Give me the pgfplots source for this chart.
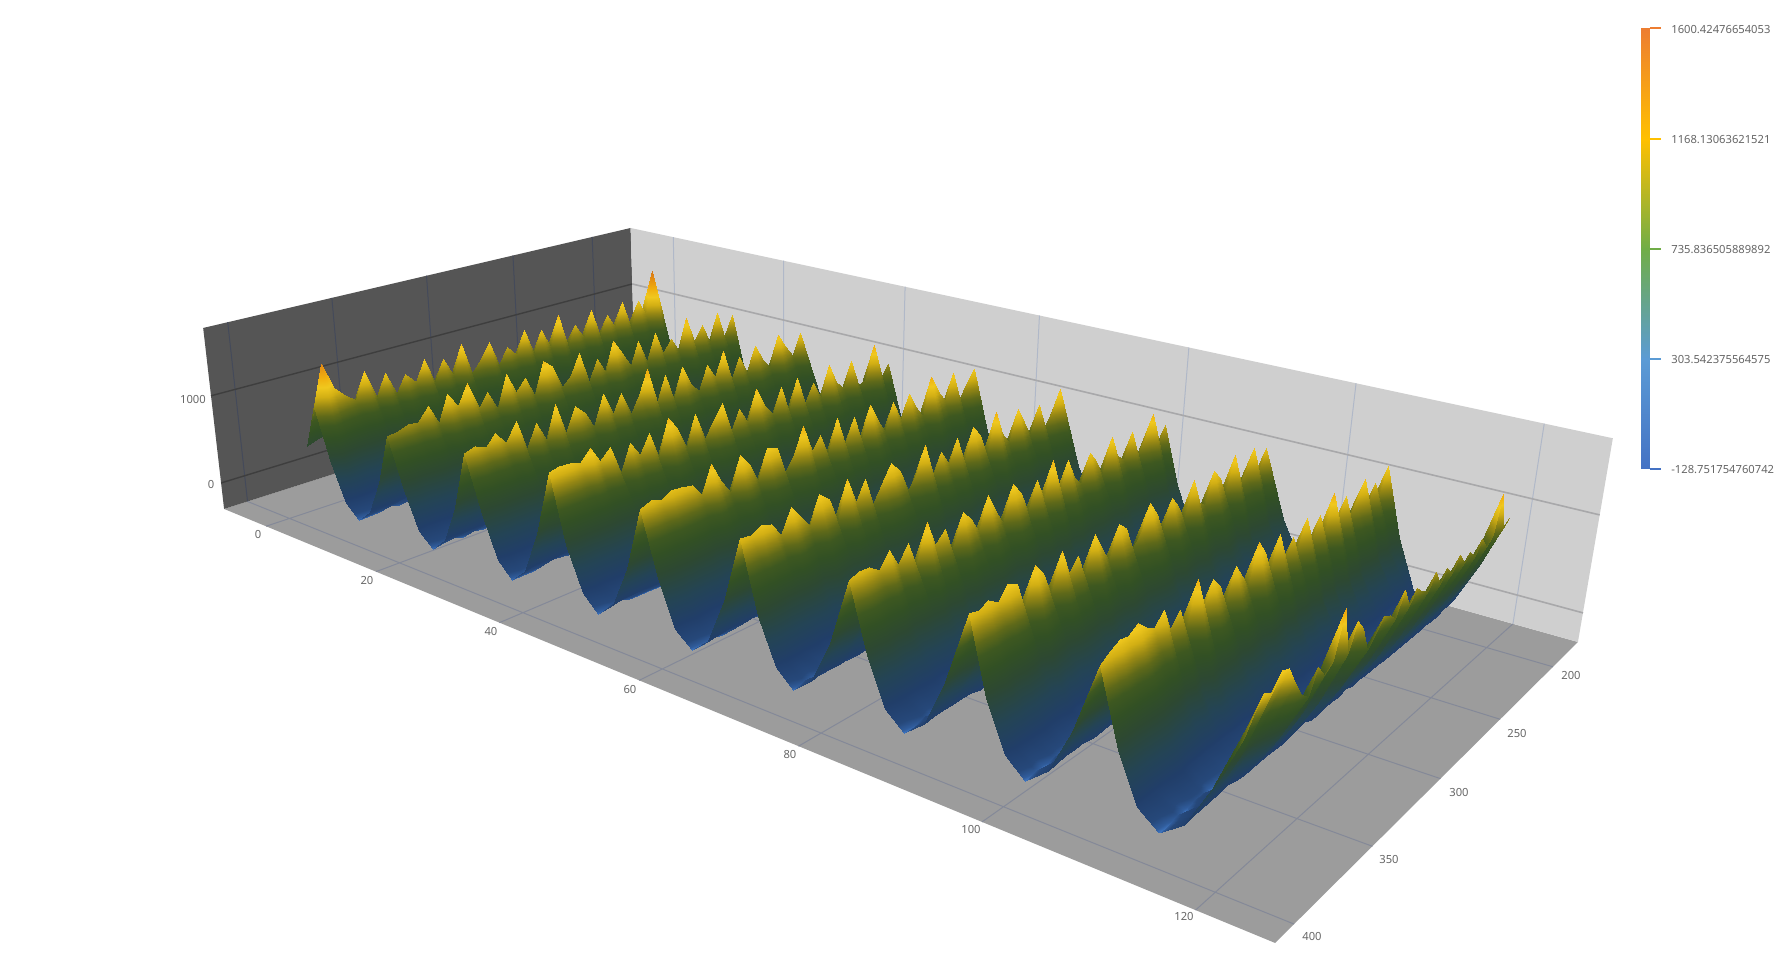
\documentclass[border=0pt]{standalone}
\usepackage{pgfplots}
\usepackage{pgfplotstable}
\usepackage{fontspec}
\setmainfont{Noto Sans}
\pgfplotsset{compat=1.18}
\pgfplotstableread[header=false]{
198 640  900 400 30 -110 45 520  1150 500 60 -85 35 390  880 400 25 -118 50 450  1010 440 40 -75 60 540  1200 520 30 -105 30 380  860 390 45 -92 55 490  1090 470 35 -122 25 420  930 410 50 -80 70 550  1220 530 40 -100 60 480  1000
203 950  1520 640 70 -90 40 400  900 410 30 -115 65 530  1180 510 45 -70 25 380  860 390 50 -108 45 470  1080 490 35 -120 60 560  1250 540 30 -78 25 390  880 400 55 -100 60 510  1160 500 40 -118 30 420  950 420 65 -88 50 480  940
208 660  980 440 30 -118 60 550  1220 530 50 -72 30 410  920 420 40 -110 70 580  1300 590 65 -95 25 400  900 410 30 -125 45 470  1040 460 60 -80 70 570  1280 560 40 -112 25 390  870 380 50 -70 50 500  1120 490 35 -115 40 430  1320
213 600  1180 510 60 -76 35 390  880 400 45 -120 50 480  1080 470 30 -85 30 420  930 420 65 -105 60 550  1240 530 40 -72 25 390  890 400 50 -118 45 470  1060 480 35 -90 65 540  1230 530 25 -110 30 390  880 400 40 -74 25 420  960
218 630  870 390 25 -108 55 510  1130 520 70 -88 60 540  1240 530 35 -122 25 390  880 400 40 -70 35 430  960 440 60 -112 50 520  1180 510 30 -80 30 400  900 420 45 -118 35 450  1010 470 65 -96 60 550  1240 520 25 -76 25 400  880
223 620  1230 530 65 -84 30 420  960 430 25 -118 30 390  880 400 60 -72 50 530  1200 520 40 -108 45 490  1100 480 30 -90 25 390  880 410 60 -125 55 530  1190 500 30 -68 25 400  900 420 45 -110 40 470  1060 470 35 -85 30 440  1000
228 650  940 420 35 -116 65 570  1280 570 50 -74 35 450  1000 440 25 -100 30 410  910 430 65 -122 70 580  1300 560 40 -82 40 470  1060 460 30 -112 25 410  920 440 60 -70 65 560  1260 550 30 -105 25 400  900 400 40 -90 25 400  880
233 610  1120 490 50 -72 25 390  890 400 50 -110 55 530  1190 520 45 -94 40 450  1020 440 25 -120 25 390  880 420 65 -78 60 550  1230 540 40 -115 40 450  1010 440 30 -68 25 390  880 410 55 -100 55 530  1190 510 45 -86 30 430  960
238 590  880 390 30 -122 45 480  1080 470 35 -80 25 400  900 430 65 -106 65 560  1250 540 40 -70 40 450  1020 440 25 -118 25 400  900 430 60 -88 65 550  1240 530 50 -112 50 490  1100 480 35 -75 30 430  960 420 30 -120 25 400  900
243 640  1240 540 60 -90 30 420  930 430 50 -72 45 500  1120 490 25 -115 25 390  880 420 60 -84 55 530  1200 510 40 -124 40 460  1040 450 25 -70 25 390  880 420 60 -102 55 540  1210 560 70 -80 70 580  1300 560 30 -118 25 450  1020
248 600  910 410 45 -76 55 530  1200 520 25 -108 25 390  870 400 45 -92 50 490  1100 480 30 -120 30 420  940 450 70 -74 70 580  1300 560 45 -110 45 470  1060 460 30 -82 25 410  910 410 25 -126 25 390  880 390 45 -70 25 400  890
253 610  1100 490 25 -118 25 390  880 420 65 -86 65 570  1260 550 30 -72 25 400  900 430 50 -114 55 520  1180 490 25 -90 25 380  860 420 55 -120 55 520  1180 500 35 -68 35 440  980 440 55 -104 50 510  1160 500 30 -80 25 440  980
258 660  860 380 25 -80 50 520  1170 510 35 -112 35 440  980 460 60 -70 60 540  1220 520 25 -122 25 390  880 440 50 -94 50 500  1130 480 25 -76 25 400  900 430 65 -116 60 550  1240 530 25 -88 25 390  890 400 30 -110 25 400  880
263 600  1280 570 70 -100 25 400  900 420 50 -72 50 510  1150 490 25 -118 25 390  870 410 45 -84 45 470  1060 470 60 -124 60 550  1240 530 40 -70 35 450  1010 440 25 -106 25 390  880 420 55 -78 55 530  1210 520 40 -114 35 460  1040
268 610  900 400 40 -120 45 480  1080 470 25 -74 25 390  880 420 50 -90 50 520  1180 530 65 -110 65 560  1250 540 25 -82 25 390  890 430 60 -125 60 550  1220 530 45 -72 40 480  1060 470 30 -100 30 430  950 430 25 -86 25 400  900
273 650  1160 510 65 -78 65 570  1260 560 40 -116 40 450  1000 440 25 -70 25 410  910 400 25 -108 25 380  870 430 55 -92 55 530  1200 510 25 -122 25 390  880 430 50 -76 50 520  1180 510 45 -104 45 500  1120 490 30 -84 30 430  950
278 590  890 400 25 -112 25 410  910 440 60 -72 60 550  1220 530 40 -98 40 470  1040 470 50 -118 50 520  1180 500 30 -80 30 430  960 460 70 -110 70 580  1290 560 25 -70 25 390  870 400 25 -124 25 410  900 440 40 -88 40 460  1020
283 630  1210 520 45 -92 45 490  1100 470 25 -122 25 390  880 430 65 -74 65 570  1260 550 30 -106 30 420  930 440 50 -84 50 510  1130 480 30 -116 30 420  930 450 45 -70 45 490  1100 510 60 -96 60 550  1230 520 25 -120 25 400  900
288 620  940 420 25 -74 25 380  860 420 55 -104 55 530  1190 500 30 -88 30 420  920 460 60 -120 60 550  1240 520 25 -72 25 390  880 440 50 -112 50 520  1170 540 65 -82 65 560  1250 530 25 -100 25 390  880 440 50 -76 50 500  1100
293 600  1070 470 60 -118 60 550  1230 530 25 -70 25 400  900 440 45 -96 45 490  1100 470 25 -124 25 390  880 460 70 -80 70 570  1270 550 25 -110 25 390  890 420 40 -74 40 450  1000 470 50 -102 50 510  1150 490 25 -86 25 400  880
298 570  880 400 35 -84 35 450  1010 510 70 -114 70 590  1330 550 25 -72 25 390  880 440 50 -100 50 500  1130 470 35 -120 35 450  1010 470 45 -76 45 500  1120 480 25 -108 25 390  880 450 70 -90 70 570  1280 530 40 -124 40 430  960
303 620  1190 510 25 -74 25 400  900 430 45 -110 45 470  1060 500 60 -92 60 550  1240 520 35 -118 35 450  1000 430 25 -70 25 390  880 450 60 -104 60 550  1240 520 45 -82 45 500  1130 480 25 -116 25 410  910 430 40 -76 40 450  1000
308 650  1010 450 55 -100 55 520  1180 510 25 -122 25 390  880 430 45 -78 45 480  1080 500 70 -108 70 580  1300 540 45 -88 45 490  1110 480 30 -120 30 400  900 440 55 -70 55 530  1210 510 40 -112 40 470  1060 470 25 -84 25 400  890
313 600  880 420 70 -76 70 570  1260 540 50 -104 50 510  1150 480 30 -94 30 410  910 420 40 -120 40 460  1040 480 60 -72 60 550  1230 510 40 -114 40 470  1050 450 30 -86 30 400  900 440 55 -124 55 530  1190 500 25 -78 25 370  800
318 640  1250 550 25 -112 25 390  890 410 30 -84 30 430  950 460 60 -70 60 540  1220 510 25 -118 25 390  880 430 45 -98 45 490  1090 500 70 -76 70 560  1250 530 40 -108 40 470  1060 450 25 -120 25 390  880 430 60 -72 60 470  1040
323 600  900 410 50 -90 50 510  1130 520 60 -116 60 540  1210 500 25 -74 25 390  880 450 55 -102 55 520  1170 490 30 -122 30 400  900 410 30 -82 30 430  930 470 65 -110 65 550  1240 530 45 -70 45 500  1100 500 55 -96 55 520  1150
328 650  1130 490 35 -124 35 450  1000 430 25 -76 25 390  880 440 50 -106 50 510  1140 520 60 -88 60 540  1210 520 55 -118 55 530  1190 510 45 -72 45 500  1100 470 25 -112 25 390  880 450 60 -84 60 550  1210 500 30 -120 30 400  900
333 610  880 430 65 -70 65 550  1240 520 45 -100 45 480  1060 520 70 -90 70 570  1280 530 30 -116 30 410  910 430 35 -78 35 450  1000 480 60 -108 60 540  1210 510 45 -124 45 500  1120 490 30 -74 30 430  950 480 30 -92 30 600  1350
338 600  1200 510 25 -86 25 390  880 440 55 -118 55 510  1170 490 25 -72 25 390  890 440 45 -104 45 500  1120 530 70 -80 70 560  1260 520 25 -122 25 390  880 420 35 -94 35 450  1010 510 70 -110 70 580  1300 540 25 -70 25 430  950
343 590  960 440 45 -114 45 500  1100 470 30 -76 30 410  920 450 55 -96 55 530  1190 530 65 -120 65 560  1250 510 25 -84 25 390  880 450 45 -108 45 500  1130 530 65 -72 65 560  1250 500 25 -116 25 390  880 400 30 -88 30 400  880
348 640  1090 470 35 -80 35 430  960 500 70 -110 70 570  1260 530 35 -70 35 450  1000 430 30 -122 30 410  900 450 50 -90 50 510  1140 490 35 -112 35 450  1020 450 30 -76 30 410  900 460 45 -104 45 500  1120 490 35 -118 35 450  1000
353 590  880 450 70 -120 70 570  1270 520 30 -82 30 400  900 440 50 -108 50 510  1160 500 40 -74 40 460  1060 510 60 -116 60 540  1230 560 70 -92 70 570  1280 530 50 -124 50 510  1140 480 35 -78 35 450  1000 420 25 -100 25 370  800
358 620  1160 500 40 -96 40 470  1050 470 50 -70 50 500  1130 480 25 -118 25 390  880 500 70 -84 70 570  1270 520 30 -110 30 430  960 420 25 -74 25 400  900 480 65 -122 65 560  1260 540 60 -90 60 530  1210 490 25 -112 25 400  880
363 600  900 420 60 -116 60 530  1210 500 25 -72 25 390  880 440 55 -100 55 520  1190 480 35 -120 35 450  1000 450 45 -86 45 490  1100 490 55 -76 55 510  1170 480 30 -108 30 410  910 440 50 -92 50 490  1100 490 35 -124 35 460  1020
368 630  1240 520 30 -76 30 420  920 470 60 -112 60 540  1220 500 45 -88 45 480  1080 490 50 -120 50 510  1130 510 60 -70 60 540  1230 490 35 -104 35 450  1000 460 55 -78 55 520  1180 510 50 -116 50 510  1160 510 60 -84 60 530  1200
373 640  950 450 50 -108 50 500  1140 490 35 -90 35 450  1020 500 65 -72 65 560  1250 520 50 -118 50 510  1150 470 35 -80 35 450  1000 480 60 -112 60 530  1190 520 60 -70 60 540  1220 530 65 -106 65 550  1240 530 55 -86 55 540  1230
378 620  1040 460 35 -84 35 450  1000 480 50 -120 50 510  1160 500 45 -76 45 500  1130 510 50 -108 50 510  1160 500 50 -118 50 500  1150 470 40 -72 40 470  1050 480 45 -110 45 490  1110 500 55 -90 55 520  1180 500 45 -122 45 490  1100
383 590  1150 490 35 -110 35 450  1020 450 35 -88 35 470  1050 500 55 -118 55 520  1170 490 45 -74 45 490  1100 510 55 -104 55 520  1180 490 50 -116 50 500  1120 510 55 -80 55 520  1170 520 60 -124 60 530  1200 480 35 -92 35 510  1150
388 560  1445 580 30 -118 30 430  980 460 40 -100 40 490  1100 500 55 -110 55 520  1180 490 50 -96 50 500  1140 490 45 -120 45 500  1120 500 50 -88 50 500  1130 490 50 -112 50 510  1130 500 50 -100 50 510  1150 470 35 -118 35 450  1020
393 520  1000 420 20 -125 20 400  960 420 25 -128 25 430  1060 470 30 -126 30 470  1160 470 30 -125 30 450  1100 470 30 -127 30 480  1140 460 30 -125 30 450  1090 470 30 -127 30 480  1150 470 30 -128 30 450  1090 440 20 -128 20 400  880
}\T
\def\flat{}
\pgfplotsforeachungrouped \r in {0,...,39}{%
  \pgfplotstablegetelem{\r}{[index]0}\of\T
  \edef\yy{\pgfplotsretval}%
  \pgfplotsforeachungrouped \c in {1,...,56}{%
    \pgfplotstablegetelem{\r}{[index]\c}\of\T
    \xdef\flat{\flat \c\space \yy\space \pgfplotsretval\noexpand\\}%
  }%
}
\definecolor{labelgray}{RGB}{102,102,102}
\tikzset{tlab/.style={font=\fontsize{5.6}{7}\selectfont,text=labelgray,inner sep=0pt}}
\pgfplotsset{
  colormap={app}{
    rgb255(0pt)=(65,120,195); rgb255(20pt)=(48,92,155); rgb255(60pt)=(38,72,122); rgb255(179pt)=(33,62,105);
    rgb255(379pt)=(36,68,85); rgb255(629pt)=(45,72,50); rgb255(800pt)=(50,80,36);
    rgb255(929pt)=(62,88,32); rgb255(1029pt)=(95,105,25); rgb255(1129pt)=(150,135,20);
    rgb255(1229pt)=(210,175,20); rgb255(1329pt)=(240,200,30); rgb255(1429pt)=(240,175,15);
    rgb255(1579pt)=(225,135,20); rgb255(1729pt)=(200,100,20)},
  colormap={leg}{
    rgb255(0cm)=(68,114,196); rgb255(1cm)=(91,155,213); rgb255(2cm)=(112,173,71);
    rgb255(3cm)=(255,192,0); rgb255(4cm)=(237,125,49)},
  /pgfplots/table/proj/.style={
    /pgfplots/table/x expr={PU(\thisrowno{0},\thisrowno{1},\thisrowno{2})},
    /pgfplots/table/y expr={PV(\thisrowno{0},\thisrowno{1},\thisrowno{2})},
    /pgfplots/table/z expr=0},
}
\def\plotsurf#1{\addplot3[surf,shader=interp,z buffer=none,mesh/ordering=x varies,mesh/cols=56,colormap name=app,point meta={\thisrowno{2}}]
  table[row sep=crcr,header=false,
    x expr={PU(1.85+2.15*(\thisrowno{0}-1),\thisrowno{1},\thisrowno{2})},
    y expr={PV(1.85+2.15*(\thisrowno{0}-1),\thisrowno{1},\thisrowno{2})},
    z expr=0] {#1};}
\begin{document}
\begin{tikzpicture}
\begin{axis}[
  scale only axis,width=890.5pt,height=480.5pt,
  xmin=0,xmax=1781,ymin=0,ymax=961,zmin=-1,zmax=1,view={0}{90},
  hide axis,clip=true,
  point meta min=-128.75,point meta max=1600.42,
  declare function={
    PU(\a,\b,\c)=(478.61*(0.0612+0.00741*\a)-453.02*(0.109+0.00422*(\b-200))-22.97*(\c+305)/2059+635)/(1-0.29429*(0.0612+0.00741*\a)-0.1876*(0.109+0.00422*(\b-200))-0.02948*(\c+305)/2059);
    PV(\a,\b,\c)=961-(75.07*(0.0612+0.00741*\a)+35.51*(0.109+0.00422*(\b-200))-156.7*(\c+305)/2059+378)/(1-0.29429*(0.0612+0.00741*\a)-0.1876*(0.109+0.00422*(\b-200))-0.02948*(\c+305)/2059);
  },
]
% floor and walls
\addplot3[fill={rgb,255:red,156;green,156;blue,156},draw=none] table[proj,header=false]{
-8.26 174.17 -305
126.7 174.17 -305
126.7 411.1 -305
-8.26 411.1 -305
};
\addplot3[fill={rgb,255:red,85;green,85;blue,85},draw=none] table[proj,header=false]{
-8.26 174.17 -305
-8.26 411.1 -305
-8.26 411.1 1754
-8.26 174.17 1754
};
\addplot3[fill={rgb,255:red,207;green,207;blue,207},draw=none] table[proj,header=false]{
-8.26 174.17 -305
126.7 174.17 -305
126.7 174.17 1754
-8.26 174.17 1754
};
% floor grid
\addplot3[draw={rgb,255:red,132;green,137;blue,152},line width=0.5pt,empty line=jump] table[proj,header=false]{
0 174.17 -305
0 411.1 -305

20 174.17 -305
20 411.1 -305

40 174.17 -305
40 411.1 -305

60 174.17 -305
60 411.1 -305

80 174.17 -305
80 411.1 -305

100 174.17 -305
100 411.1 -305

120 174.17 -305
120 411.1 -305

-8.26 200 -305
126.7 200 -305

-8.26 250 -305
126.7 250 -305

-8.26 300 -305
126.7 300 -305

-8.26 350 -305
126.7 350 -305

-8.26 400 -305
126.7 400 -305
};
% dark wall grid
\addplot3[draw={rgb,255:red,68;green,74;blue,90},line width=0.5pt,empty line=jump] table[proj,header=false]{
-8.26 200 -305
-8.26 200 1754

-8.26 250 -305
-8.26 250 1754

-8.26 300 -305
-8.26 300 1754

-8.26 350 -305
-8.26 350 1754

-8.26 400 -305
-8.26 400 1754
};
\addplot3[draw={rgb,255:red,62;green,62;blue,62},line width=0.7pt,empty line=jump] table[proj,header=false]{
-8.26 174.17 0
-8.26 411.1 0

-8.26 174.17 1000
-8.26 411.1 1000
};
% light wall grid
\addplot3[draw={rgb,255:red,176;green,184;blue,200},line width=0.5pt,empty line=jump] table[proj,header=false]{
0 174.17 -305
0 174.17 1754

20 174.17 -305
20 174.17 1754

40 174.17 -305
40 174.17 1754

60 174.17 -305
60 174.17 1754

80 174.17 -305
80 174.17 1754

100 174.17 -305
100 174.17 1754

120 174.17 -305
120 174.17 1754
};
\addplot3[draw={rgb,255:red,168;green,168;blue,170},line width=0.8pt,empty line=jump] table[proj,header=false]{
-8.26 174.17 0
126.7 174.17 0

-8.26 174.17 1000
126.7 174.17 1000
};
% surface
\expandafter\plotsurf\expandafter{\flat}
% legend bar
\addplot3[surf,shader=interp,colormap name=leg,mesh/ordering=x varies,mesh/cols=2,point meta=explicit] coordinates {
(1641,492,0) [-128.75] (1650,492,0) [-128.75]
(1641,602,0) [303.54] (1650,602,0) [303.54]
(1641,712,0) [735.84] (1650,712,0) [735.84]
(1641,822,0) [1168.13] (1650,822,0) [1168.13]
(1641,933,0) [1600.42] (1650,933,0) [1600.42]
};
\addplot3[draw={rgb,255:red,68;green,114;blue,196},line width=0.8pt] coordinates {(1650,492,0) (1661,492,0)};
\addplot3[draw={rgb,255:red,91;green,155;blue,213},line width=0.8pt] coordinates {(1650,602,0) (1661,602,0)};
\addplot3[draw={rgb,255:red,112;green,173;blue,71},line width=0.8pt] coordinates {(1650,712,0) (1661,712,0)};
\addplot3[draw={rgb,255:red,255;green,192;blue,0},line width=0.8pt] coordinates {(1650,822,0) (1661,822,0)};
\addplot3[draw={rgb,255:red,237;green,125;blue,49},line width=0.8pt] coordinates {(1650,933,0) (1661,933,0)};
% labels
\node[tlab,anchor=west] at (axis cs:1671,931,0) {1600.42476654053};
\node[tlab,anchor=west] at (axis cs:1671,821,0) {1168.13063621521};
\node[tlab,anchor=west] at (axis cs:1671,711,0) {735.836505889892};
\node[tlab,anchor=west] at (axis cs:1671,601,0) {303.542375564575};
\node[tlab,anchor=west] at (axis cs:1671,491,0) {-128.751754760742};
\node[tlab] at (axis cs:258,426,0) {0};
\node[tlab] at (axis cs:367,380,0) {20};
\node[tlab] at (axis cs:491,329,0) {40};
\node[tlab] at (axis cs:630,271,0) {60};
\node[tlab] at (axis cs:790,206,0) {80};
\node[tlab] at (axis cs:971,131,0) {100};
\node[tlab] at (axis cs:1184,44,0) {120};
\node[tlab] at (axis cs:1571,285,0) {200};
\node[tlab] at (axis cs:1517,227,0) {250};
\node[tlab] at (axis cs:1459,168,0) {300};
\node[tlab] at (axis cs:1389,101,0) {350};
\node[tlab] at (axis cs:1312,24,0) {400};
\node[tlab] at (axis cs:193,561,0) {1000};
\node[tlab] at (axis cs:211,476,0) {0};
\end{axis}
\pgfresetboundingbox
\path (0,0) rectangle (890.5pt,480.5pt);
\end{tikzpicture}
\end{document}
